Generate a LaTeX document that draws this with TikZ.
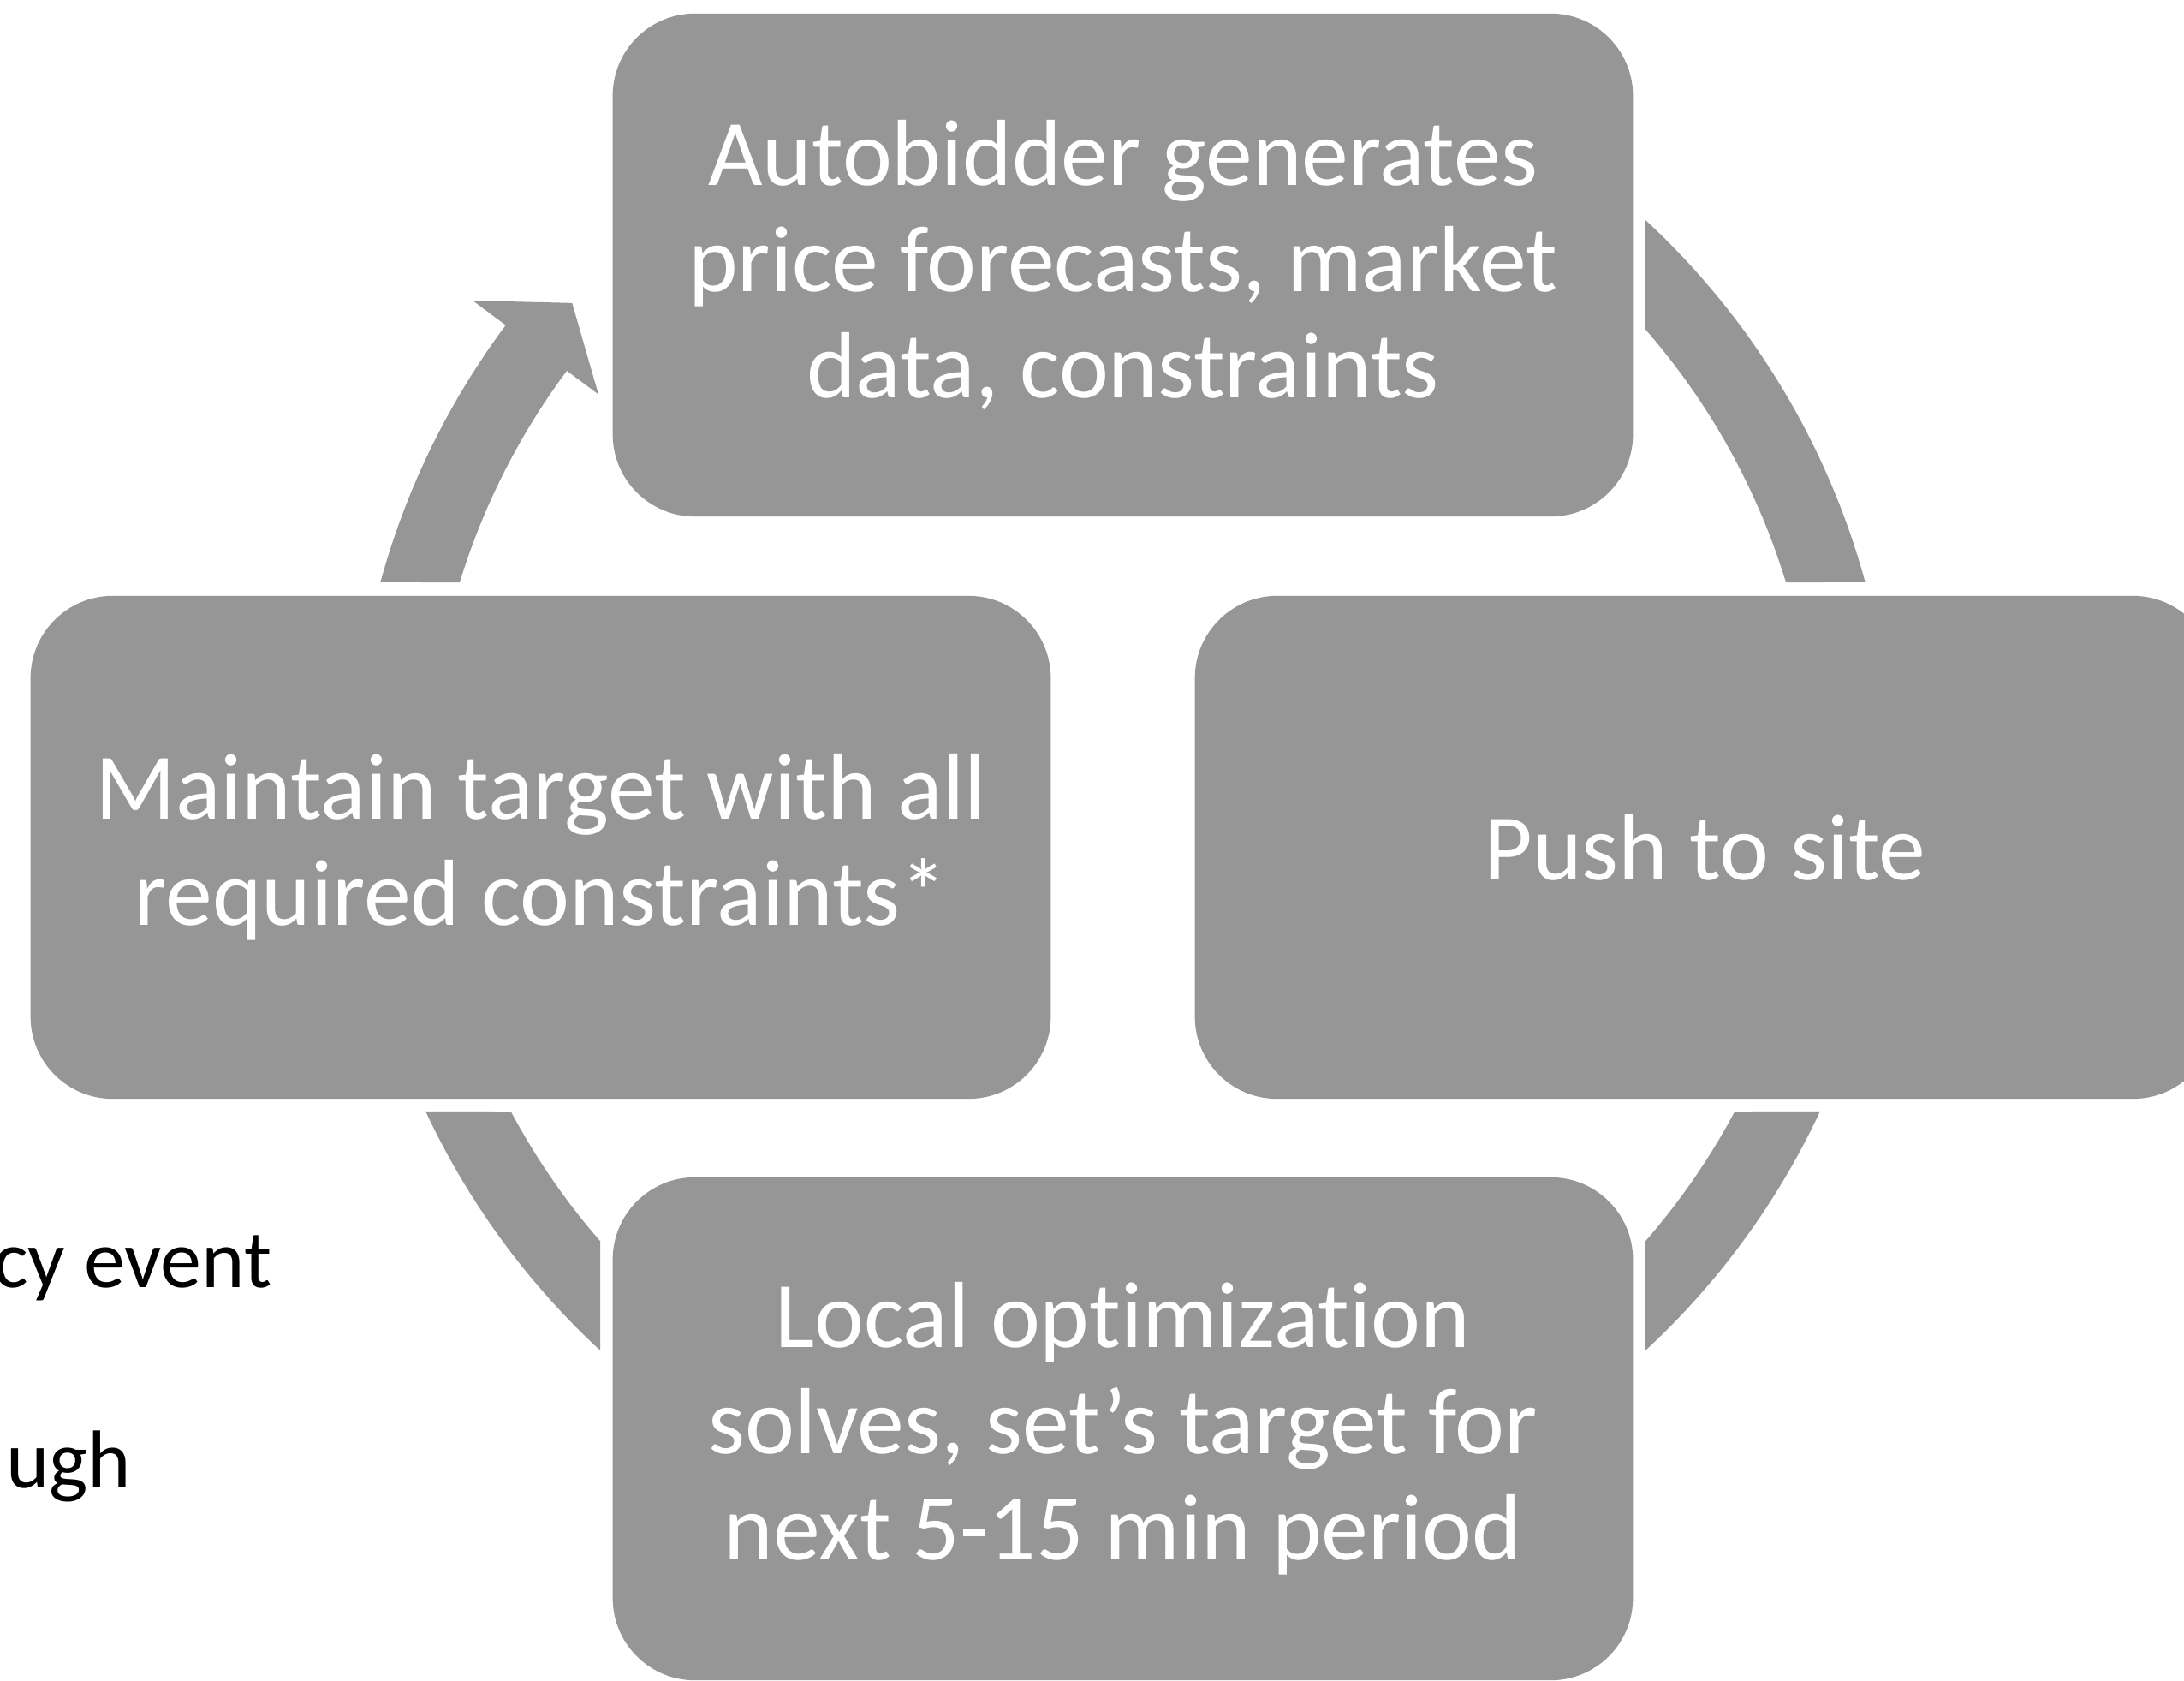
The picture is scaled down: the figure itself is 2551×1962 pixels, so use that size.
\documentclass[tikz,border=0pt]{standalone}
\usepackage{fontspec}
\setmainfont{Carlito}[Ligatures={NoCommon}]
\usepackage{tikz}
\usetikzlibrary{positioning}
\definecolor{CycleGray}{RGB}{150, 150, 150}
\definecolor{CycleText}{RGB}{255, 255, 255}

\begin{document}
\begin{tikzpicture}[x=0.01cm,y=0.01cm,
    stagebox/.style={fill=CycleGray, rounded corners=0.96cm, minimum width=11.91cm,
      minimum height=5.87cm, inner sep=0pt, align=center, text=CycleText,
      font=\fontsize{31.2}{35.3}\selectfont},
    sidenote/.style={anchor=base east, inner sep=0pt, text=black,
      font=\fontsize{27.3}{33}\selectfont}]
  \path[use as bounding box] (0,0) rectangle (2551,1962);
  \clip (0,0) rectangle (2551,1962);
  \fill[white] (0,0) rectangle (2551,1962);

  % centre of the cycle band (outer 899, inner 810)
  \coordinate (cyc) at (1311.5,1045);

  % band: top box -> push to site
  \fill[CycleGray, shift={(cyc)}]
    (47.23:899) arc[start angle=47.23, end angle=15.29, radius=899] --
    (17.01:810) arc[start angle=17.01, end angle=41.09, radius=810] -- cycle;

  % band: push to site -> local optimization
  \fill[CycleGray, shift={(cyc)}]
    (-25.07:899) arc[start angle=-25.07, end angle=-47.23, radius=899] --
    (-41.09:810) arc[start angle=-41.09, end angle=-28.06, radius=810] -- cycle;

  % band: local optimization -> maintain target
  \fill[CycleGray, shift={(cyc)}]
    (227.23:899) arc[start angle=227.23, end angle=205.07, radius=899] --
    (208.06:810) arc[start angle=208.06, end angle=221.09, radius=810] -- cycle;

  % band with head: maintain target -> autobidder
  \fill[CycleGray, shift={(cyc)}]
    (164.71:899) arc[start angle=164.71, end angle=143.3, radius=899] --
    (143.3:947) -- (138.8:855) -- (143.3:764) --
    (143.3:810) arc[start angle=143.3, end angle=162.99, radius=810] -- cycle;

  % the four stages
  \node[stagebox] (autobid) at (1311.5,1652.5)
    {Autobidder generates\\price forecasts, market\\data, constraints};
  \node[stagebox] (push) at (1991.5,972.5) {Push to site};
  \node[stagebox] (localopt) at (1311.5,293.5)
    {Local optimization\\solves, set’s target for\\next 5-15 min period};
  \node[stagebox] (maintain) at (631.5,972.5)
    {Maintain target with all\\required constraints*};

  % text cut off at the left edge
  \node[sidenote] (eventnote) at (318,459) {cy event};
  \node[sidenote] (ughnote) at (154,225) {ugh};
\end{tikzpicture}
\end{document}
